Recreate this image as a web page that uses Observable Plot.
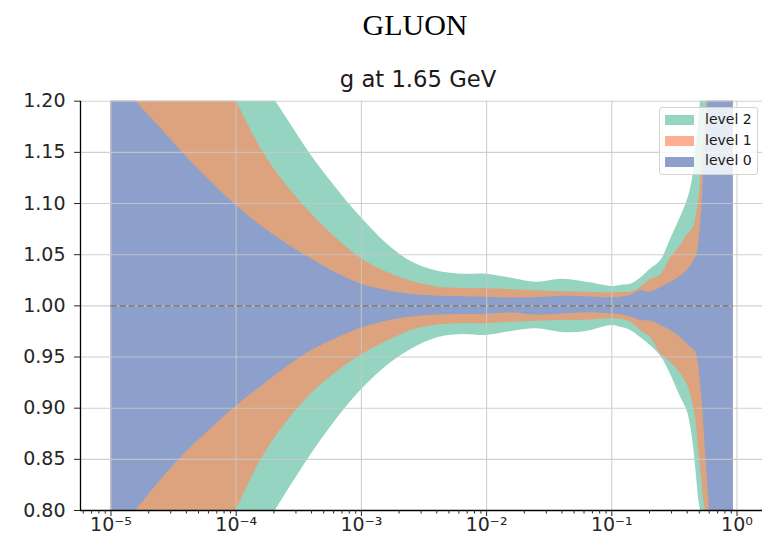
<!DOCTYPE html>
<html><head><meta charset="utf-8">
<script src="https://cdn.jsdelivr.net/npm/d3@7"></script>
<script src="https://cdn.jsdelivr.net/npm/@observablehq/plot@0.6"></script>
<style>
body{margin:0;background:#fff;font-family:"DejaVu Sans",sans-serif;}
#wrap{position:relative;width:762px;height:542px;overflow:hidden;}
#head{position:relative;height:88px;overflow:visible;}
.t1{position:absolute;left:0;width:830px;top:9.9px;text-align:center;font-family:"Liberation Serif",serif;font-size:30px;line-height:30px;color:#000;white-space:nowrap;}
.t2{position:absolute;left:0;width:836px;top:67.8px;text-align:center;font-family:"DejaVu Sans",sans-serif;font-size:22.7px;line-height:22.7px;color:#1a1a1a;white-space:nowrap;}
#legend{position:absolute;left:659px;top:107px;width:97px;height:66px;border:1px solid #d3d3d3;border-radius:3px;background:rgba(255,255,255,0.8);}
.lp{position:absolute;left:5px;width:29px;height:10px;}
.lt{position:absolute;left:45px;font-family:"DejaVu Sans",sans-serif;font-size:14px;line-height:17px;color:#1a1a1a;white-space:nowrap;}
</style></head>
<body>
<div id="wrap">
  <div id="head">
    <div class="t1">GLUON</div>
    <div class="t2">g at 1.65 GeV</div>
  </div>
  <div id="chart"></div>
  <div id="legend"></div>
</div>
<script>
// log10(x) sample positions
const logX = [-5, -4.8, -4.6, -4.4, -4.2, -4.0, -3.8, -3.6, -3.4, -3.2, -3.0, -2.8, -2.6, -2.4, -2.2, -2.0, -1.8, -1.6, -1.4, -1.2, -1.0, -0.93, -0.85, -0.77, -0.69, -0.61, -0.53, -0.45, -0.40, -0.37, -0.345, -0.33, -0.318, -0.305, -0.292, -0.278, -0.265, -0.252, -0.238, -0.225, -0.21, -0.15, -0.03];
// level 0 band
const l0lo = [0.77, 0.80, 0.83, 0.857, 0.880, 0.902, 0.921, 0.940, 0.956, 0.968, 0.978, 0.985, 0.989, 0.991, 0.9915, 0.9918, 0.993, 0.991, 0.992, 0.9932, 0.992, 0.9915, 0.989, 0.9856, 0.985, 0.981, 0.976, 0.969, 0.963, 0.9595, 0.957, 0.955, 0.950, 0.940, 0.925, 0.907, 0.884, 0.859, 0.835, 0.81, 0.785, 0.60, 0.50];
const l0hi = [1.23, 1.20, 1.173, 1.146, 1.121, 1.098, 1.078, 1.061, 1.046, 1.032, 1.021, 1.015, 1.011, 1.0095, 1.009, 1.0084, 1.0076, 1.008, 1.0094, 1.009, 1.0078, 1.0084, 1.010, 1.015, 1.0133, 1.018, 1.023, 1.029, 1.034, 1.039, 1.044, 1.047, 1.051, 1.062, 1.077, 1.10, 1.135, 1.16, 1.19, 1.22, 1.26, 1.40, 1.50];
// level 1 band
const l1lo = [0.51, 0.57, 0.63, 0.69, 0.745, 0.80, 0.850, 0.886, 0.914, 0.935, 0.952, 0.965, 0.976, 0.981, 0.9824, 0.9824, 0.984, 0.985, 0.9856, 0.986, 0.9873, 0.987, 0.984, 0.976, 0.969, 0.953, 0.945, 0.9335, 0.924, 0.913, 0.900, 0.890, 0.875, 0.858, 0.842, 0.826, 0.81, 0.80, 0.785, 0.77, 0.74, 0.60, 0.50];
const l1hi = [1.45, 1.40, 1.34, 1.29, 1.245, 1.20, 1.153, 1.118, 1.090, 1.066, 1.046, 1.033, 1.024, 1.0185, 1.017, 1.0166, 1.0158, 1.0148, 1.0138, 1.0133, 1.0127, 1.0133, 1.0133, 1.018, 1.026, 1.030, 1.047, 1.059, 1.069, 1.073, 1.077, 1.085, 1.094, 1.103, 1.120, 1.142, 1.162, 1.181, 1.20, 1.23, 1.27, 1.40, 1.50];
// level 2 band
const l2lo = [0.45, 0.51, 0.57, 0.63, 0.685, 0.735, 0.777, 0.817, 0.855, 0.889, 0.918, 0.941, 0.9575, 0.9685, 0.972, 0.971, 0.975, 0.9775, 0.974, 0.975, 0.9807, 0.979, 0.976, 0.969, 0.961, 0.951, 0.933, 0.9107, 0.898, 0.882, 0.86, 0.842, 0.826, 0.81, 0.80, 0.78, 0.76, 0.74, 0.72, 0.70, 0.68, 0.55, 0.40];
const l2hi = [1.55, 1.49, 1.43, 1.37, 1.315, 1.262, 1.222, 1.184, 1.147, 1.115, 1.086, 1.061, 1.043, 1.034, 1.031, 1.031, 1.027, 1.023, 1.026, 1.023, 1.019, 1.020, 1.021, 1.027, 1.036, 1.044, 1.065, 1.087, 1.102, 1.115, 1.132, 1.152, 1.165, 1.181, 1.20, 1.23, 1.26, 1.29, 1.32, 1.35, 1.38, 1.45, 1.55];

const levelNames = ["level 2", "level 1", "level 0"];
const levelColors = ["#66c2a5", "#fc8d62", "#8da0cb"];
const levelOpacity = [0.7, 0.7, 1];

const yTicks = [0.80, 0.85, 0.90, 0.95, 1.00, 1.05, 1.10, 1.15, 1.20];
const xMajor = [1e-5, 1e-4, 1e-3, 1e-2, 1e-1, 1e0];
const xMinor = [6e-6, 7e-6, 8e-6, 9e-6,
  2e-5, 3e-5, 4e-5, 5e-5, 6e-5, 7e-5, 8e-5, 9e-5,
  2e-4, 3e-4, 4e-4, 5e-4, 6e-4, 7e-4, 8e-4, 9e-4,
  2e-3, 3e-3, 4e-3, 5e-3, 6e-3, 7e-3, 8e-3, 9e-3,
  2e-2, 3e-2, 4e-2, 5e-2, 6e-2, 7e-2, 8e-2, 9e-2,
  2e-1, 3e-1, 4e-1, 5e-1, 6e-1, 7e-1, 8e-1, 9e-1];
const xDomainLog = [-5.2436, 0.2037];
const dataRangeLog = [-5, -0.03];

const rows = logX.map((e, i) => ({
  x: Math.pow(10, e),
  l0lo: l0lo[i], l0hi: l0hi[i],
  l1lo: l1lo[i], l1hi: l1hi[i],
  l2lo: l2lo[i], l2hi: l2hi[i]
}));

const supMap = {"-": "\u207B", "0": "\u2070", "1": "\u00B9", "2": "\u00B2", "3": "\u00B3", "4": "\u2074", "5": "\u2075", "6": "\u2076", "7": "\u2077", "8": "\u2078", "9": "\u2079"};
const fmtX = d => "10" + String(Math.round(Math.log10(d))).split("").map(c => supMap[c]).join("");

const xDom = xDomainLog.map(e => Math.pow(10, e));
const bands = [["l2lo", "l2hi"], ["l1lo", "l1hi"], ["l0lo", "l0hi"]];

const chart = Plot.plot({
  width: 762, height: 454,
  marginTop: 12.7, marginBottom: 32, marginLeft: 80, marginRight: 0,
  style: {fontFamily: "DejaVu Sans", fontSize: "19px", color: "#262626", background: "transparent", overflow: "visible"},
  x: {type: "log", domain: xDom},
  y: {domain: [0.8, 1.2]},
  marks: [
    ...bands.map((b, i) => Plot.areaY(rows, {x: "x", y1: b[0], y2: b[1], fill: levelColors[i], fillOpacity: levelOpacity[i], curve: "catmull-rom", clip: true})),
    Plot.gridX(xMajor, {stroke: "#c8c8c8", strokeOpacity: 0.85, strokeWidth: 1.1}),
    Plot.gridY(yTicks, {stroke: "#c8c8c8", strokeOpacity: 0.85, strokeWidth: 1.1}),
    Plot.ruleY([1], {x1: Math.pow(10, dataRangeLog[0]), x2: Math.pow(10, dataRangeLog[1]), stroke: "#7f7f7f", strokeWidth: 1.6, strokeDasharray: "6.3,2.7"}),
    Plot.ruleX([xDom[0]], {stroke: "#000", strokeWidth: 1.3}),
    Plot.ruleY([0.8], {stroke: "#000", strokeWidth: 1.3}),
    Plot.axisY(yTicks, {tickFormat: d => d.toFixed(2), tickSize: 6, tickPadding: 9, fontSize: 19, label: null}),
    Plot.axisX(xMajor, {tickFormat: fmtX, tickSize: 6, tickPadding: 1, fontSize: 19, label: null}),
    Plot.axisX(xMinor, {tickFormat: () => "", tickSize: 3.5, label: null})
  ]
});
document.getElementById("chart").appendChild(chart);

const legend = document.getElementById("legend");
const rowCenters = [12.3, 33, 53.7];
levelNames.forEach((name, i) => {
  const p = document.createElement("div");
  p.className = "lp";
  p.style.top = (rowCenters[i] - 5) + "px";
  p.style.background = levelColors[i];
  p.style.opacity = levelOpacity[i];
  legend.appendChild(p);
  const t = document.createElement("div");
  t.className = "lt";
  t.style.top = (rowCenters[i] - 9.5) + "px";
  t.textContent = name;
  legend.appendChild(t);
});
</script>
</body></html>
